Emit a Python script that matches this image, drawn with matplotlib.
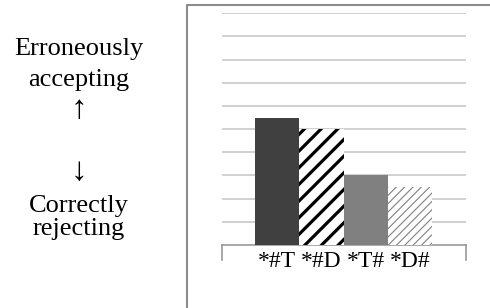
import matplotlib
matplotlib.use("Agg")
import matplotlib.pyplot as plt
from matplotlib.lines import Line2D

# data
categories = ["*#T", "*#D", "*T#", "*D#"]
values = [5.5, 5.0, 3.0, 2.5]
top_lines = ["Erroneously", "accepting"]
bottom_lines = ["Correctly", "rejecting"]
arrows = ["\u2191", "\u2193"]

serif = ["Liberation Serif", "DejaVu Serif"]

fig = plt.figure(figsize=(4.9, 3.08), dpi=100)
W, H = 490, 308

# axes placed in pixel terms
ax = fig.add_axes([221.7 / W, 1 - 245 / H, 244 / W, (245 - 13.3) / H])

x = list(range(len(categories)))
bars = ax.bar(x, values, width=1.0, zorder=3)

# bar styles
bars[0].set_facecolor("#404040")
bars[0].set_linewidth(0)

bars[1].set_facecolor("white")
bars[1].set_edgecolor("black")
bars[1].set_linewidth(0)
bars[1].set_hatch("//")

bars[2].set_facecolor("#808080")
bars[2].set_linewidth(0)

bars[3].set_facecolor("white")
bars[3].set_edgecolor("#808080")
bars[3].set_linewidth(0)
bars[3].set_hatch("////")

try:
    bars[1].set_hatch_linewidth(2.3)
    bars[3].set_hatch_linewidth(0.8)
except AttributeError:
    plt.rcParams["hatch.linewidth"] = 2.0

ax.set_xlim(-1.252, 4.256)
ax.set_ylim(0, 10)
ax.set_yticks(range(1, 11))
ax.yaxis.grid(True, color="#c8c8c8", linewidth=1.2, zorder=0)
ax.set_axisbelow(True)
ax.tick_params(axis="y", left=False, labelleft=False)
ax.tick_params(axis="x", bottom=False, pad=1)
ax.set_xticks(x)
ax.set_xticklabels(categories, family=serif, fontsize=17)
for side in ["top", "right", "left"]:
    ax.spines[side].set_visible(False)
ax.spines["bottom"].set_color("#999999")
ax.spines["bottom"].set_linewidth(1.2)

# end ticks of category axis
for xe in [0, 1]:
    ax.plot([xe, xe], [0, -15 / 231.7], transform=ax.transAxes,
            color="#999999", linewidth=1.2, clip_on=False)

# outer frame, cut off at right and bottom
fig.add_artist(Line2D([187 / W, 187 / W, 1.0], [0.0, 1 - 5 / H, 1 - 5 / H],
                      transform=fig.transFigure, color="#8c8c8c", linewidth=1.5))

# left side explanation
for txt, yb in zip(top_lines + bottom_lines, [55, 86, 212, 235]):
    fig.text(79 / W, 1 - yb / H, txt, ha="center", va="baseline",
             family=serif, fontsize=19)
for txt, yc in zip(arrows, [110, 172]):
    fig.text(79 / W, 1 - yc / H, txt, ha="center", va="center",
             family=serif, fontsize=24)

fig.savefig("out.png", dpi=100)
